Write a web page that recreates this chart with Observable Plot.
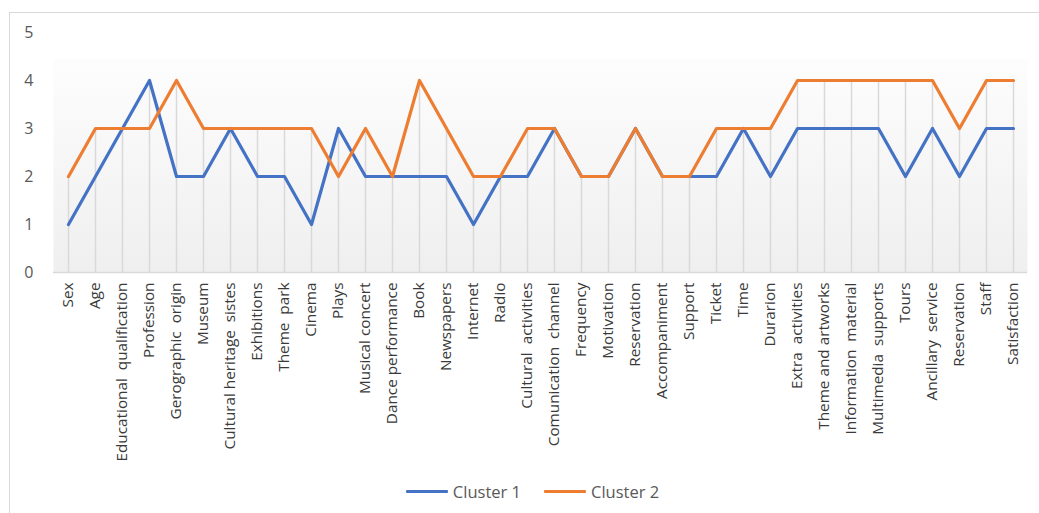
<!DOCTYPE html>
<html>
<head>
<meta charset="utf-8">
<script src="https://cdn.jsdelivr.net/npm/d3@7"></script>
<script src="https://cdn.jsdelivr.net/npm/@observablehq/plot@0.6"></script>
<style>
  html, body { margin: 0; padding: 0; background: #fff; overflow: hidden; }
  body { width: 1039px; height: 513px; position: relative; font-family: "Open Sans", sans-serif; }
  #border { position: absolute; left: 9px; top: 12px; width: 1100px; height: 600px;
            border: 1px solid #d9d9d9; box-sizing: border-box; pointer-events: none; }
  #chart svg { display: block; }
  #legend { height: 41px; display: flex; justify-content: center; align-items: center;
            padding-left: 26px; padding-bottom: 2px; box-sizing: border-box; gap: 23px;
            font-size: 16.5px; color: #595959; }
  .item { display: flex; align-items: center; gap: 5px; }
  .swatch { width: 42px; height: 3px; border-radius: 1px; }
</style>
</head>
<body>
<div id="border"></div>
<div id="chart"></div>
<div id="legend"></div>
<script>
const categories = [
  "Sex", "Age", "Educational  qualification", "Profession", "Gerographic  origin",
  "Museum", "Cultural heritage  sistes", "Exhibitions", "Theme  park", "Cinema",
  "Plays", "Musical concert", "Dance performance", "Book", "Newspapers",
  "Internet", "Radio", "Cultural  activities", "Comunication  channel", "Frequency",
  "Motivation", "Reservation", "Accompaniment", "Support", "Ticket",
  "Time", "Durarion", "Extra  activities", "Theme and artworks", "Information  material",
  "Multimedia  supports", "Tours", "Ancillary  service", "Reservation", "Staff",
  "Satisfaction"
];
const cluster1 = [1, 2, 3, 4, 2, 2, 3, 2, 2, 1, 3, 2, 2, 2, 2, 1, 2, 2, 3, 2, 2, 3, 2, 2, 2, 3, 2, 3, 3, 3, 3, 2, 3, 2, 3, 3];
const cluster2 = [2, 3, 3, 3, 4, 3, 3, 3, 3, 3, 2, 3, 2, 4, 3, 2, 2, 3, 3, 2, 2, 3, 2, 2, 3, 3, 3, 4, 4, 4, 4, 4, 4, 3, 4, 4];
const seriesNames = ["Cluster 1", "Cluster 2"];
const seriesColors = ["#4472C4", "#ED7D31"];
const yTicks = [0, 1, 2, 3, 4, 5];

const idx = categories.map((_, i) => i);
const rows = [];
[cluster1, cluster2].forEach((vals, s) => vals.forEach((v, i) => rows.push({i, v, series: seriesNames[s]})));

// plot-area fill: fades from white near the top to light grey at the axis
const fillDefs = () => {
  const defs = d3.create("svg:defs");
  const g = defs.append("linearGradient").attr("id", "areaFill")
    .attr("x1", 0).attr("y1", 0).attr("x2", 0).attr("y2", 1);
  g.append("stop").attr("offset", "0").attr("stop-color", "#ffffff");
  g.append("stop").attr("offset", "0.105").attr("stop-color", "#ffffff");
  g.append("stop").attr("offset", "0.11").attr("stop-color", "#fdfdfd");
  g.append("stop").attr("offset", "1").attr("stop-color", "#efefef");
  return defs.node();
};

const chart = Plot.plot({
  width: 1039,
  height: 472,
  marginLeft: 53,
  marginRight: 12,
  marginTop: 32,
  marginBottom: 200,
  style: {fontFamily: "'Open Sans', sans-serif", background: "transparent"},
  x: {type: "point", domain: idx, padding: 0.5},
  y: {domain: [0, 5]},
  marks: [
    fillDefs,
    Plot.frame({fill: "url(#areaFill)", stroke: null}),
    Plot.ruleX(idx, {x: d => d, y1: 0, y2: d => Math.max(cluster1[d], cluster2[d]), stroke: "#d9d9d9", strokeWidth: 1.5}),
    Plot.ruleY([0], {stroke: "#d9d9d9", strokeWidth: 1.5}),
    Plot.axisY({ticks: yTicks, tickFormat: d => String(d), tickSize: 0, tickPadding: 20,
                fontSize: 16, fill: "#595959", label: null}),
    Plot.axisX({ticks: idx, tickFormat: i => categories[i], tickRotate: -90, tickSize: 0, tickPadding: 10,
                fontSize: 15.3, fill: "#3a3a3a", label: null}),
    Plot.line(rows, {x: "i", y: "v", z: "series", stroke: "series", strokeWidth: 3.2,
                     strokeLinejoin: "round", strokeLinecap: "round"})
  ],
  color: {domain: seriesNames, range: seriesColors}
});
document.getElementById("chart").append(chart);

const legend = d3.select("#legend");
seriesNames.forEach((name, s) => {
  const item = legend.append("div").attr("class", "item");
  item.append("div").attr("class", "swatch").style("background", seriesColors[s]);
  item.append("span").text(name);
});
</script>
</body>
</html>
